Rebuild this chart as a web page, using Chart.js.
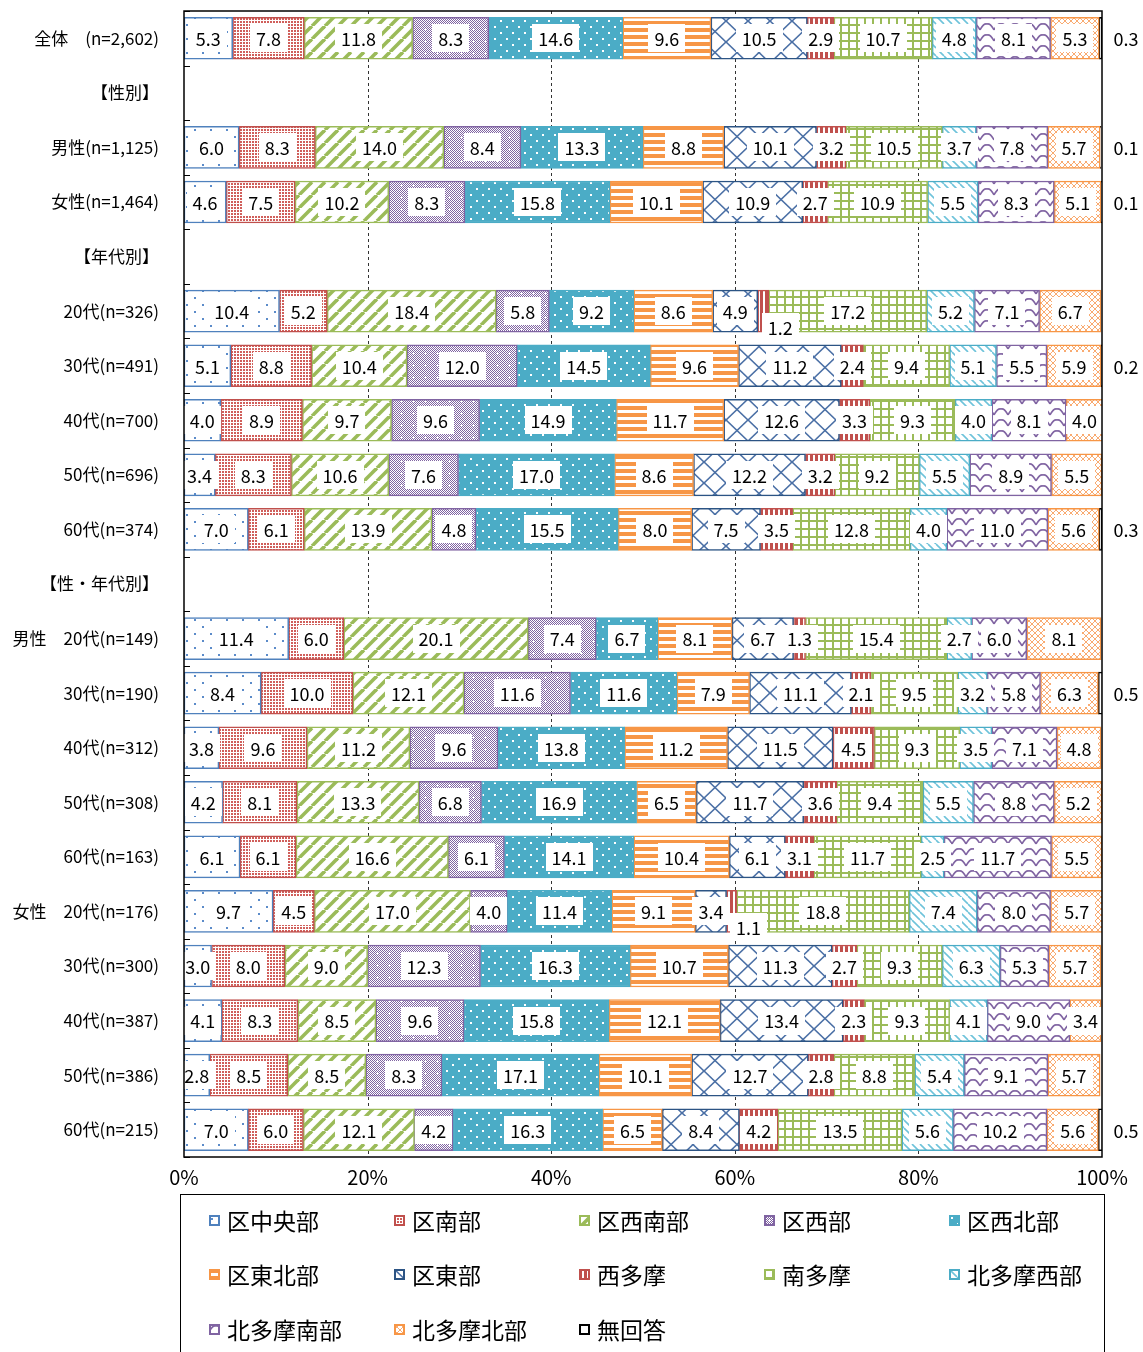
<!DOCTYPE html>
<html><head><meta charset="utf-8">
<script src="https://cdn.jsdelivr.net/npm/chart.js@4"></script>
<style>
html,body{margin:0;padding:0;background:#fff;overflow:hidden;}
#wrap{position:relative;width:1143px;height:1352px;overflow:hidden;}
#c{position:absolute;left:0;top:0;}
#legend{position:absolute;left:180px;top:1194px;width:925px;height:180px;border:1px solid #000;box-sizing:border-box;}
.item{position:absolute;display:flex;align-items:center;font-family:'Noto Sans CJK JP';font-size:23px;color:#000;white-space:nowrap;line-height:1;}
.item canvas{margin-right:7px;display:block;}
</style></head>
<body>
<div id="wrap">
<canvas id="c" width="1143" height="1195"></canvas>
<div id="legend"></div>
</div>
<script>
const F = "'Noto Sans CJK JP', 'Noto Sans', sans-serif";

const categories = [
  '全体　(n=2,602)', '【性別】', '男性(n=1,125)', '女性(n=1,464)', '【年代別】',
  '20代(n=326)', '30代(n=491)', '40代(n=700)', '50代(n=696)', '60代(n=374)',
  '【性・年代別】',
  '男性　20代(n=149)', '30代(n=190)', '40代(n=312)', '50代(n=308)', '60代(n=163)',
  '女性　20代(n=176)', '30代(n=300)', '40代(n=387)', '50代(n=386)', '60代(n=215)'
];
const seriesNames = ['区中央部','区南部','区西南部','区西部','区西北部','区東北部','区東部','西多摩','南多摩','北多摩西部','北多摩南部','北多摩北部','無回答'];
const xTicks = [0, 20, 40, 60, 80, 100];

// values per row, in series order
const rowAll    = [5.3, 7.8, 11.8, 8.3, 14.6, 9.6, 10.5, 2.9, 10.7, 4.8, 8.1, 5.3, 0.3];
const rowMale   = [6.0, 8.3, 14.0, 8.4, 13.3, 8.8, 10.1, 3.2, 10.5, 3.7, 7.8, 5.7, 0.1];
const rowFemale = [4.6, 7.5, 10.2, 8.3, 15.8, 10.1, 10.9, 2.7, 10.9, 5.5, 8.3, 5.1, 0.1];
const row20s    = [10.4, 5.2, 18.4, 5.8, 9.2, 8.6, 4.9, 1.2, 17.2, 5.2, 7.1, 6.7, 0];
const row30s    = [5.1, 8.8, 10.4, 12.0, 14.5, 9.6, 11.2, 2.4, 9.4, 5.1, 5.5, 5.9, 0.2];
const row40s    = [4.0, 8.9, 9.7, 9.6, 14.9, 11.7, 12.6, 3.3, 9.3, 4.0, 8.1, 4.0, 0];
const row50s    = [3.4, 8.3, 10.6, 7.6, 17.0, 8.6, 12.2, 3.2, 9.2, 5.5, 8.9, 5.5, 0];
const row60s    = [7.0, 6.1, 13.9, 4.8, 15.5, 8.0, 7.5, 3.5, 12.8, 4.0, 11.0, 5.6, 0.3];
const rowM20    = [11.4, 6.0, 20.1, 7.4, 6.7, 8.1, 6.7, 1.3, 15.4, 2.7, 6.0, 8.1, 0];
const rowM30    = [8.4, 10.0, 12.1, 11.6, 11.6, 7.9, 11.1, 2.1, 9.5, 3.2, 5.8, 6.3, 0.5];
const rowM40    = [3.8, 9.6, 11.2, 9.6, 13.8, 11.2, 11.5, 4.5, 9.3, 3.5, 7.1, 4.8, 0];
const rowM50    = [4.2, 8.1, 13.3, 6.8, 16.9, 6.5, 11.7, 3.6, 9.4, 5.5, 8.8, 5.2, 0];
const rowM60    = [6.1, 6.1, 16.6, 6.1, 14.1, 10.4, 6.1, 3.1, 11.7, 2.5, 11.7, 5.5, 0];
const rowF20    = [9.7, 4.5, 17.0, 4.0, 11.4, 9.1, 3.4, 1.1, 18.8, 7.4, 8.0, 5.7, 0];
const rowF30    = [3.0, 8.0, 9.0, 12.3, 16.3, 10.7, 11.3, 2.7, 9.3, 6.3, 5.3, 5.7, 0];
const rowF40    = [4.1, 8.3, 8.5, 9.6, 15.8, 12.1, 13.4, 2.3, 9.3, 4.1, 9.0, 3.4, 0];
const rowF50    = [2.8, 8.5, 8.5, 8.3, 17.1, 10.1, 12.7, 2.8, 8.8, 5.4, 9.1, 5.7, 0];
const rowF60    = [7.0, 6.0, 12.1, 4.2, 16.3, 6.5, 8.4, 4.2, 13.5, 5.6, 10.2, 5.6, 0.5];

const rows = [rowAll, null, rowMale, rowFemale, null, row20s, row30s, row40s, row50s, row60s, null,
  rowM20, rowM30, rowM40, rowM50, rowM60, rowF20, rowF30, rowF40, rowF50, rowF60];

const borderColors = ['#4F81BD','#C0504D','#9BBB59','#8064A2','#4BACC6','#F79646','#2C5484','#C0504D','#9BBB59','#4BACC6','#8064A2','#F79646','#000000'];

function tile(w, h, draw){
  const c = document.createElement('canvas'); c.width = w; c.height = h;
  const x = c.getContext('2d'); x.fillStyle = '#fff'; x.fillRect(0,0,w,h); draw(x,w,h); return c;
}
function seg(x, pts){ x.beginPath(); x.moveTo(pts[0],pts[1]); x.lineTo(pts[2],pts[3]); x.stroke(); }
const tiles = [
  tile(16,14,x=>{x.fillStyle='#5B8BC9';x.fillRect(2,3,2,2);x.fillRect(10,10,2,2);}),
  tile(3,3,x=>{x.fillStyle='#D05F5B';x.fillRect(0,0,2,2);}),
  tile(13,13,x=>{x.strokeStyle='#9BBB59';x.lineWidth=3.6;[-13,0,13].forEach(o=>seg(x,[o,13,o+13,0]));}),
  tile(12,12,x=>{x.fillStyle='#8064A2';for(let i=0;i<12;i++)for(let j=0;j<12;j++)if((i+j)%2===0)x.fillRect(i,j,1,1);x.fillStyle='#fff';x.fillRect(4,5,3,1);x.fillRect(5,4,1,3);}),
  tile(12,12,x=>{x.fillStyle='#4BACC6';x.fillRect(0,0,12,12);x.fillStyle='#fff';x.fillRect(2,2,2,2);x.fillRect(8,8,2,2);}),
  tile(1,7,x=>{x.fillStyle='#F79646';x.fillRect(0,0,1,4);}),
  tile(22,21,x=>{x.strokeStyle='#4A6FA5';x.lineWidth=1.6;seg(x,[0,0,22,21]);seg(x,[22,0,0,21]);}),
  tile(5,1,x=>{x.fillStyle='#C0504D';x.fillRect(0,0,3,1);}),
  tile(8,8,x=>{x.fillStyle='#9BBB59';x.fillRect(0,0,8,2);x.fillRect(0,0,2,8);}),
  tile(8,8,x=>{x.strokeStyle='#6EC3DA';x.lineWidth=1.6;[-8,0,8].forEach(o=>seg(x,[o,0,o+8,8]));}),
  tile(14,11,x=>{x.strokeStyle='#8064A2';x.lineWidth=1.6;x.beginPath();x.moveTo(0,8);x.quadraticCurveTo(3.5,1,7,2);x.quadraticCurveTo(10.5,1,14,8);x.stroke();}),
  tile(6,6,x=>{x.strokeStyle='#F9AA70';x.lineWidth=1;seg(x,[0,0,6,6]);seg(x,[6,0,0,6]);}),
  tile(4,4,x=>{})
];
const ctx = document.getElementById('c').getContext('2d');
const patterns = tiles.map(t => ctx.createPattern(t, 'repeat'));

const datasets = seriesNames.map((name, s) => ({
  label: name,
  data: rows.map(r => r ? r[s] : null),
  backgroundColor: patterns[s],
  borderColor: borderColors[s],
  borderWidth: 1.5,
  borderSkipped: false,
  barThickness: 42
}));

const deco = {
  id: 'deco',
  beforeDatasetsDraw(chart){
    const {ctx, chartArea: a, scales: {x}} = chart;
    ctx.save();
    ctx.strokeStyle = '#333'; ctx.lineWidth = 1; ctx.setLineDash([3,3]);
    xTicks.filter(v => v > 0 && v < 100).forEach(v => {
      const px = Math.round(x.getPixelForValue(v)) + 0.5;
      ctx.beginPath(); ctx.moveTo(px, a.top); ctx.lineTo(px, a.bottom); ctx.stroke();
    });
    ctx.restore();
  },
  afterDatasetsDraw(chart){
    const {ctx, chartArea: a} = chart;
    ctx.save();
    ctx.font = '18px ' + F; ctx.textAlign = 'center'; ctx.textBaseline = 'middle';
    chart.data.datasets.forEach((ds, di) => {
      const meta = chart.getDatasetMeta(di);
      meta.data.forEach((el, i) => {
        const v = ds.data[i];
        if (v == null || v === 0) return;
        const p = el.getProps(['x','base','y'], true);
        let cx = (p.x + p.base) / 2, cy = p.y;
        const txt = v.toFixed(1);
        if (di === seriesNames.length - 1){
          ctx.fillStyle = '#000'; ctx.fillText(txt, a.right + 24, cy + 1); return;
        }
        if (v < 1.25){ cx += 17; cy += 16; }
        const tw = ctx.measureText(txt).width;
        ctx.fillStyle = '#fff';
        ctx.fillRect(Math.round(cx - tw/2 - 6), Math.round(cy - 14), Math.round(tw + 12), 28);
        ctx.fillStyle = '#000';
        ctx.fillText(txt, cx, cy + 1);
      });
    });
    ctx.strokeStyle = '#000'; ctx.lineWidth = 1.5;
    ctx.strokeRect(a.left, a.top, a.right - a.left, a.bottom - a.top);
    const n = categories.length, h = (a.bottom - a.top) / n;
    ctx.lineWidth = 1;
    for (let i = 0; i <= n; i++){
      const y = Math.round(a.top + i*h) + 0.5;
      ctx.beginPath(); ctx.moveTo(a.left, y); ctx.lineTo(a.left + 6, y); ctx.stroke();
    }
    ctx.restore();
  }
};

new Chart(ctx, {
  type: 'bar',
  data: { labels: categories, datasets },
  options: {
    responsive: false, animation: false, indexAxis: 'y',
    layout: { padding: { left: 0, right: 41, top: 11, bottom: 0 } },
    plugins: { legend: { display: false }, tooltip: { enabled: false } },
    scales: {
      x: {
        stacked: true, min: 0, max: 100,
        afterBuildTicks(s){ s.ticks = xTicks.map(v => ({value: v})); },
        ticks: { callback: v => v + '%', color: '#000', font: { size: 20, family: F }, padding: 8, maxRotation: 0, autoSkip: false },
        grid: { display: false, drawTicks: false }, border: { display: false },
        afterFit(s){ s.height = 38; s.paddingLeft = 0; s.paddingRight = 0; }
      },
      y: {
        stacked: true,
        ticks: { color: '#000', font: { size: 17, family: F }, padding: 25, autoSkip: false },
        grid: { display: false, drawTicks: false }, border: { display: false },
        afterFit(s){ s.width = 184; s.paddingTop = 0; s.paddingBottom = 0; }
      }
    }
  },
  plugins: [deco]
});

// legend
const leg = document.getElementById('legend');
seriesNames.forEach((name, s) => {
  const col = s % 5, row = Math.floor(s / 5);
  const d = document.createElement('div'); d.className = 'item';
  d.style.left = (28 + col * 185) + 'px';
  d.style.top = (28 + row * 54.5 - 15) + 'px';
  d.style.height = '24px';
  const sw = document.createElement('canvas'); sw.width = 11; sw.height = 11;
  const sx = sw.getContext('2d');
  sx.fillStyle = sx.createPattern(tiles[s], 'repeat'); sx.fillRect(0,0,11,11);
  sx.strokeStyle = borderColors[s]; sx.lineWidth = 2; sx.strokeRect(1,1,9,9);
  d.appendChild(sw);
  const t = document.createElement('span'); t.textContent = name; d.appendChild(t);
  leg.appendChild(d);
});
</script>
</body></html>
